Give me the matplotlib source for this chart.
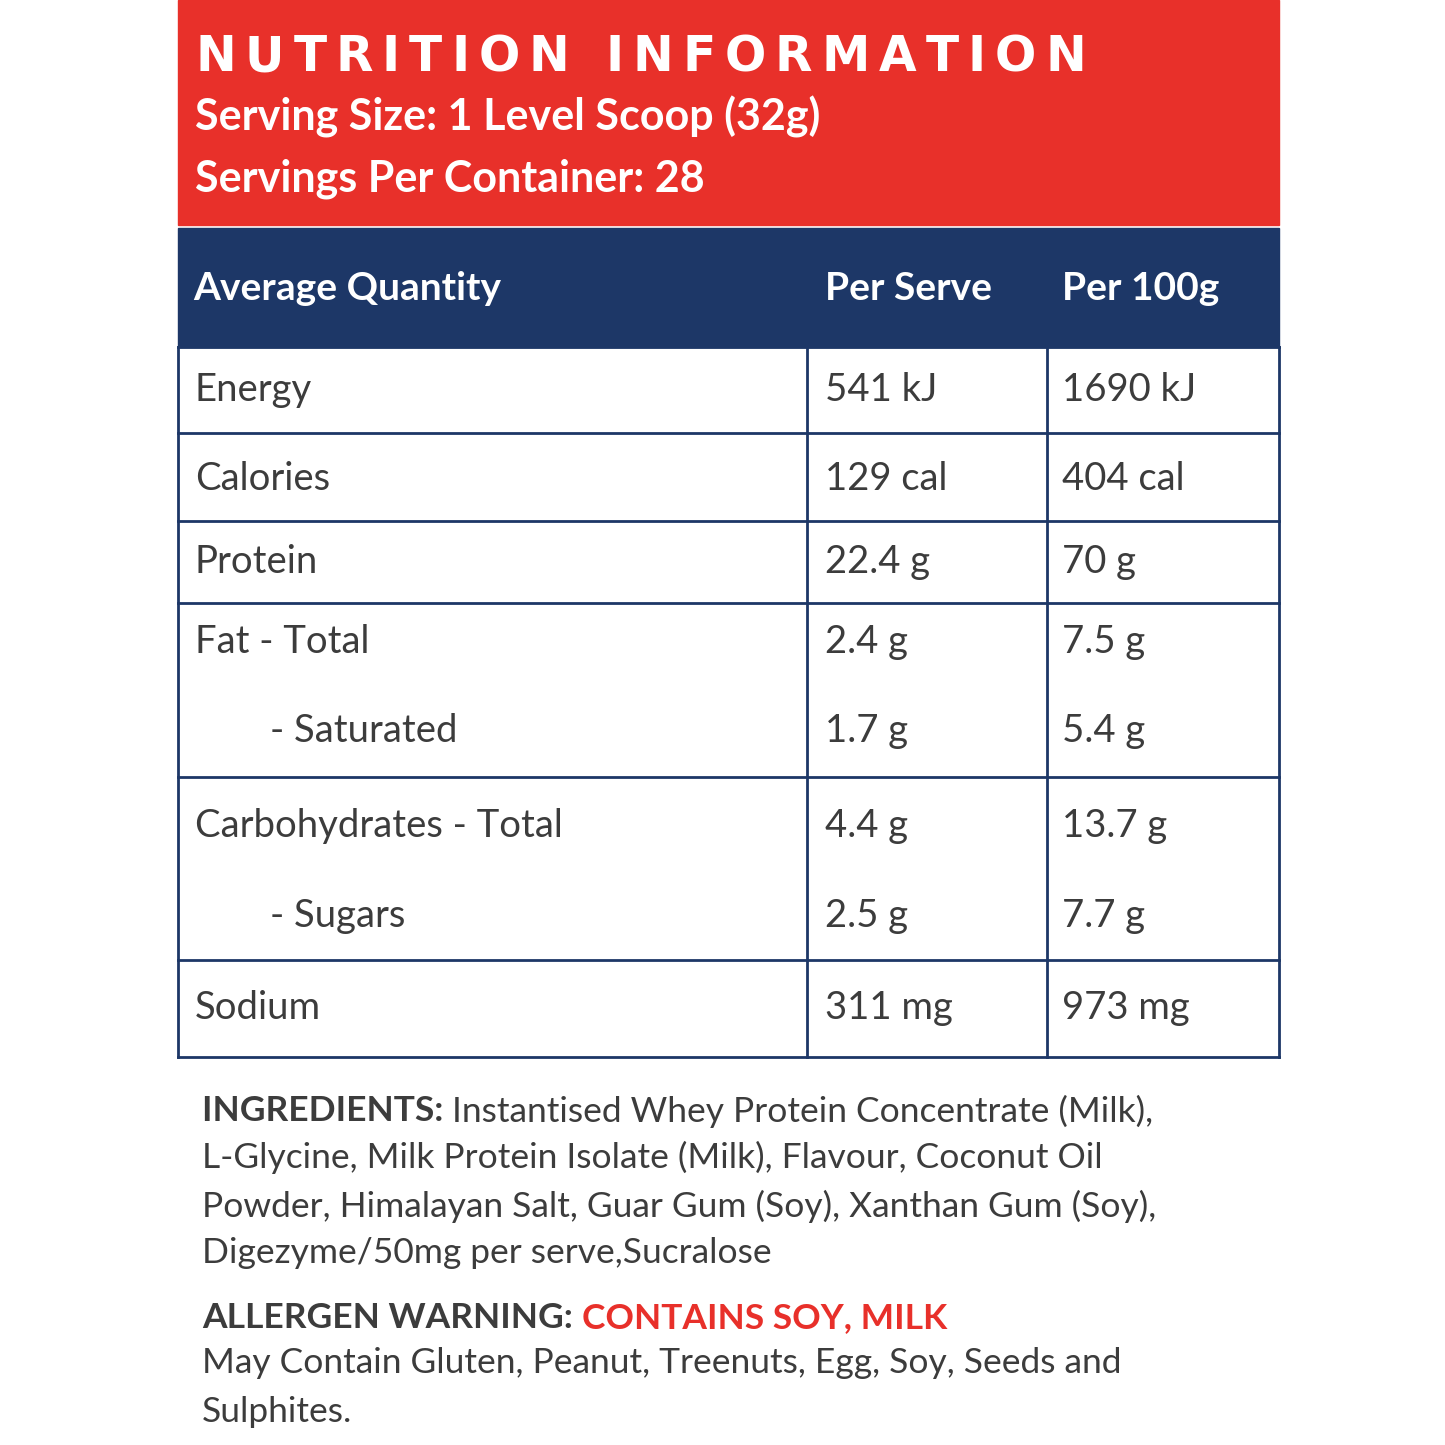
import matplotlib
matplotlib.use("Agg")
from matplotlib import pyplot as plt
from matplotlib.patches import Rectangle

plt.rcParams['font.family'] = ['Lato', 'DejaVu Sans']

# DATA
title = "NUTRITION INFORMATION"
serving_lines = ["Serving Size: 1 Level Scoop (32g)", "Servings Per Container: 28"]
headers = ["Average Quantity", "Per Serve", "Per 100g"]
nutrients = ["Energy", "Calories", "Protein", "Fat - Total", "      - Saturated",
             "Carbohydrates - Total", "      - Sugars", "Sodium"]
per_serve = ["541 kJ", "129 cal", "22.4 g", "2.4 g", "1.7 g", "4.4 g", "2.5 g", "311 mg"]
per_100g = ["1690 kJ", "404 cal", "70 g", "7.5 g", "5.4 g", "13.7 g", "7.7 g", "973 mg"]
row_y = [390, 479, 562, 642, 731, 826, 916, 1008]
box_lines = [347, 433, 521, 603, 777, 960, 1057]
ingredients = ["Instantised Whey Protein Concentrate (Milk),",
               "L-Glycine, Milk Protein Isolate (Milk), Flavour, Coconut Oil",
               "Powder, Himalayan Salt, Guar Gum (Soy), Xanthan Gum (Soy),",
               "Digezyme/50mg per serve,Sucralose"]
may_contain = ["May Contain Gluten, Peanut, Treenuts, Egg, Soy, Seeds and", "Sulphites."]

RED = "#E8302A"
NAVY = "#1D3767"
GREY = "#3c3c3c"

fig = plt.figure(figsize=(14.45, 14.45), dpi=100)
ax = fig.add_axes([0, 0, 1, 1])
ax.set_xlim(0, 1445)
ax.set_ylim(1445, 0)
ax.axis("off")

ax.add_patch(Rectangle((178, 0), 1101, 225, color=RED))
ax.add_patch(Rectangle((178, 228), 1101, 119, color=NAVY))

# wide-spaced title, letter by letter
fig.canvas.draw()
r = fig.canvas.get_renderer()
x = 195
for ch in title:
    t = ax.text(x, 57, ch, color="white", fontsize=35, fontweight="bold",
                va="center", family=["DejaVu Sans"])
    w = t.get_window_extent(renderer=r).width if ch != " " else 18
    x += w + 9

ax.text(195, 117, serving_lines[0], color="white", fontsize=31, fontweight="bold", va="center")
ax.text(195, 179, serving_lines[1], color="white", fontsize=31, fontweight="bold", va="center")

col_x = [193, 825, 1062]
for cx, h in zip(col_x, headers):
    ax.text(cx, 288, h, color="white", fontsize=28, fontweight="bold", va="center")

# table grid
for gx in [178, 807, 1047, 1279]:
    ax.plot([gx, gx], [347, 1057], color=NAVY, lw=2)
for y in box_lines:
    ax.plot([178, 1279], [y, y], color=NAVY, lw=2)

for y, n, a, b in zip(row_y, nutrients, per_serve, per_100g):
    indent = n.startswith(" ")
    nx = 270 if indent else 195
    ax.text(nx, y, n.strip(), color=GREY, fontsize=27.5, va="center")
    ax.text(825, y, a, color=GREY, fontsize=27.5, va="center")
    ax.text(1062, y, b, color=GREY, fontsize=27.5, va="center")

# ingredients block
fs = 25.5
ing_y = [1111, 1157, 1206, 1253]
t = ax.text(202, ing_y[0], "INGREDIENTS: ", color=GREY, fontsize=fs, fontweight="bold", va="center")
fig.canvas.draw()
bb = t.get_window_extent()
ax.text(202 + bb.width, ing_y[0], ingredients[0], color=GREY, fontsize=fs, va="center")
for y, line in zip(ing_y[1:], ingredients[1:]):
    ax.text(202, y, line, color=GREY, fontsize=fs, va="center")

t = ax.text(202, 1318, "ALLERGEN WARNING: ", color=GREY, fontsize=fs, fontweight="bold", va="center")
fig.canvas.draw()
bb = t.get_window_extent()
ax.text(202 + bb.width, 1318, "CONTAINS SOY, MILK", color=RED, fontsize=fs,
        fontweight="bold", va="center")
for y, line in zip([1363, 1412], may_contain):
    ax.text(202, y, line, color=GREY, fontsize=fs, va="center")

fig.savefig("out.png", dpi=100, facecolor="white")
